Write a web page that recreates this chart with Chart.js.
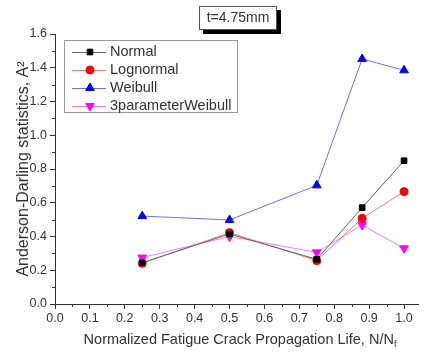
<!DOCTYPE html>
<html>
<head>
<meta charset="utf-8">
<script src="https://cdn.jsdelivr.net/npm/chart.js@4/dist/chart.umd.min.js"></script>
<style>
  html, body { margin: 0; padding: 0; background: #fff; }
  #wrap { width: 424px; height: 355px; }
</style>
</head>
<body>
<div id="wrap"><canvas id="ad-chart"></canvas></div>
<script>
// life fraction N/Nf and Anderson-Darling statistic per distribution
const lifeFraction = [0.25, 0.5, 0.75, 0.88, 1.0];
const normalAD = [0.245, 0.415, 0.265, 0.571, 0.849];
const lognormalAD = [0.241, 0.423, 0.257, 0.508, 0.666];
const weibullAD = [0.521, 0.498, 0.703, 1.452, 1.385];
const weibull3pAD = [0.275, 0.400, 0.306, 0.468, 0.330];
const seriesNames = ["Normal", "Lognormal", "Weibull", "3parameterWeibull"];
const caseLabel = "t=4.75mm";

const FONT = "'Liberation Sans', Arial, sans-serif";
const TEXT = "#333";

function pts(ys) {
  return lifeFraction.map((x, i) => ({ x, y: ys[i] }));
}

const styles = [
  { line: "#666", fill: "#000", point: "rect", rot: 0, r: 4 },
  { line: "#f08080", fill: "#f00", point: "circle", rot: 0, r: 4 },
  { line: "#7070ee", fill: "#00f", point: "triangle", rot: 0, r: 5 },
  { line: "#f080f0", fill: "#f0f", point: "triangle", rot: 180, r: 5 }
];

const datasets = [normalAD, lognormalAD, weibullAD, weibull3pAD].map((ys, i) => ({
  label: seriesNames[i],
  data: pts(ys),
  borderColor: styles[i].line,
  borderWidth: 1,
  backgroundColor: styles[i].fill,
  pointBackgroundColor: styles[i].fill,
  pointBorderColor: styles[i].fill,
  pointStyle: styles[i].point,
  pointRotation: styles[i].rot,
  pointRadius: styles[i].r,
  tension: 0
}));

// minor ticks, legend, case box and x title with subscript
const extras = {
  id: "extras",
  afterDraw(chart) {
    const ctx = chart.ctx;
    const xs = chart.scales.x, ys = chart.scales.y;
    const area = chart.chartArea;
    ctx.save();
    ctx.strokeStyle = "#333";
    ctx.lineWidth = 1;
    for (let v = 0.05; v < 1.0; v += 0.1) {
      const px = Math.round(xs.getPixelForValue(v)) + 0.5;
      ctx.beginPath();
      ctx.moveTo(px, area.bottom);
      ctx.lineTo(px, area.bottom + 3);
      ctx.stroke();
    }
    for (let v = 0.1; v < 1.6; v += 0.2) {
      const py = Math.round(ys.getPixelForValue(v)) + 0.5;
      ctx.beginPath();
      ctx.moveTo(area.left, py);
      ctx.lineTo(area.left - 3, py);
      ctx.stroke();
    }

    // legend box
    ctx.strokeStyle = "#999";
    ctx.strokeRect(64.5, 40.5, 173, 72);
    ctx.font = "14.5px " + FONT;
    ctx.textBaseline = "middle";
    const rowY = [52, 70, 88, 106];
    chart.data.datasets.forEach((ds, i) => {
      const y = rowY[i];
      ctx.strokeStyle = ds.borderColor;
      ctx.beginPath();
      ctx.moveTo(72, y + 0.5);
      ctx.lineTo(106, y + 0.5);
      ctx.stroke();
      ctx.fillStyle = ds.pointBackgroundColor;
      ctx.strokeStyle = ds.pointBorderColor;
      Chart.helpers.drawPoint(ctx, {
        pointStyle: ds.pointStyle,
        rotation: ds.pointRotation,
        radius: ds.pointRadius,
        borderWidth: 1
      }, 90, y);
      ctx.fillStyle = TEXT;
      ctx.fillText(ds.label, 110, y);
    });

    // case label box with shadow
    ctx.fillStyle = "#000";
    ctx.fillRect(203, 10, 78, 24);
    ctx.fillStyle = "#fff";
    ctx.fillRect(199, 6, 78, 24);
    ctx.strokeStyle = "#555";
    ctx.strokeRect(199.5, 6.5, 77, 23);
    ctx.fillStyle = TEXT;
    ctx.font = "14px " + FONT;
    ctx.textAlign = "center";
    ctx.fillText(caseLabel, 238, 18.5);

    // x axis title, N/Nf with subscript f
    ctx.textAlign = "left";
    const main = "Normalized Fatigue Crack Propagation Life, N/N";
    ctx.font = "14.5px " + FONT;
    const w = ctx.measureText(main).width;
    ctx.font = "9px " + FONT;
    const ws = ctx.measureText("f").width;
    const x0 = 240 - (w + ws) / 2;
    ctx.font = "14.5px " + FONT;
    ctx.fillText(main, x0, 340);
    ctx.font = "9px " + FONT;
    ctx.fillText("f", x0 + w, 345);
    ctx.restore();
  }
};

new Chart(document.getElementById("ad-chart"), {
  type: "line",
  data: { datasets },
  options: {
    responsive: true,
    maintainAspectRatio: false,
    animation: false,
    layout: { padding: { top: 34, right: 3, left: 0, bottom: 0 } },
    plugins: { legend: { display: false }, tooltip: { enabled: false } },
    scales: {
      x: {
        type: "linear",
        min: 0,
        max: 1.04,
        afterFit(s) { s.height = 51; },
        afterBuildTicks(s) {
          s.ticks = [0, 0.1, 0.2, 0.3, 0.4, 0.5, 0.6, 0.7, 0.8, 0.9, 1.0].map(v => ({ value: v }));
        },
        ticks: {
          color: TEXT,
          font: { family: FONT, size: 12.5 },
          padding: 2,
          maxRotation: 0,
          callback: v => v.toFixed(1)
        },
        grid: { drawOnChartArea: false, tickLength: 5, color: "#333" },
        border: { color: "#333", width: 1 }
      },
      y: {
        min: 0,
        max: 1.6,
        afterFit(s) { s.width = 55; },
        ticks: {
          stepSize: 0.2,
          color: TEXT,
          font: { family: FONT, size: 12.5 },
          padding: 3,
          callback: v => v.toFixed(1)
        },
        grid: { drawOnChartArea: false, tickLength: 5, color: "#333" },
        border: { color: "#333", width: 1 },
        title: {
          display: true,
          text: "Anderson-Darling statistics, A\u00b2",
          color: TEXT,
          font: { family: FONT, size: 16 },
          padding: { top: 14, bottom: 0 }
        }
      }
    }
  },
  plugins: [extras]
});
</script>
</body>
</html>
